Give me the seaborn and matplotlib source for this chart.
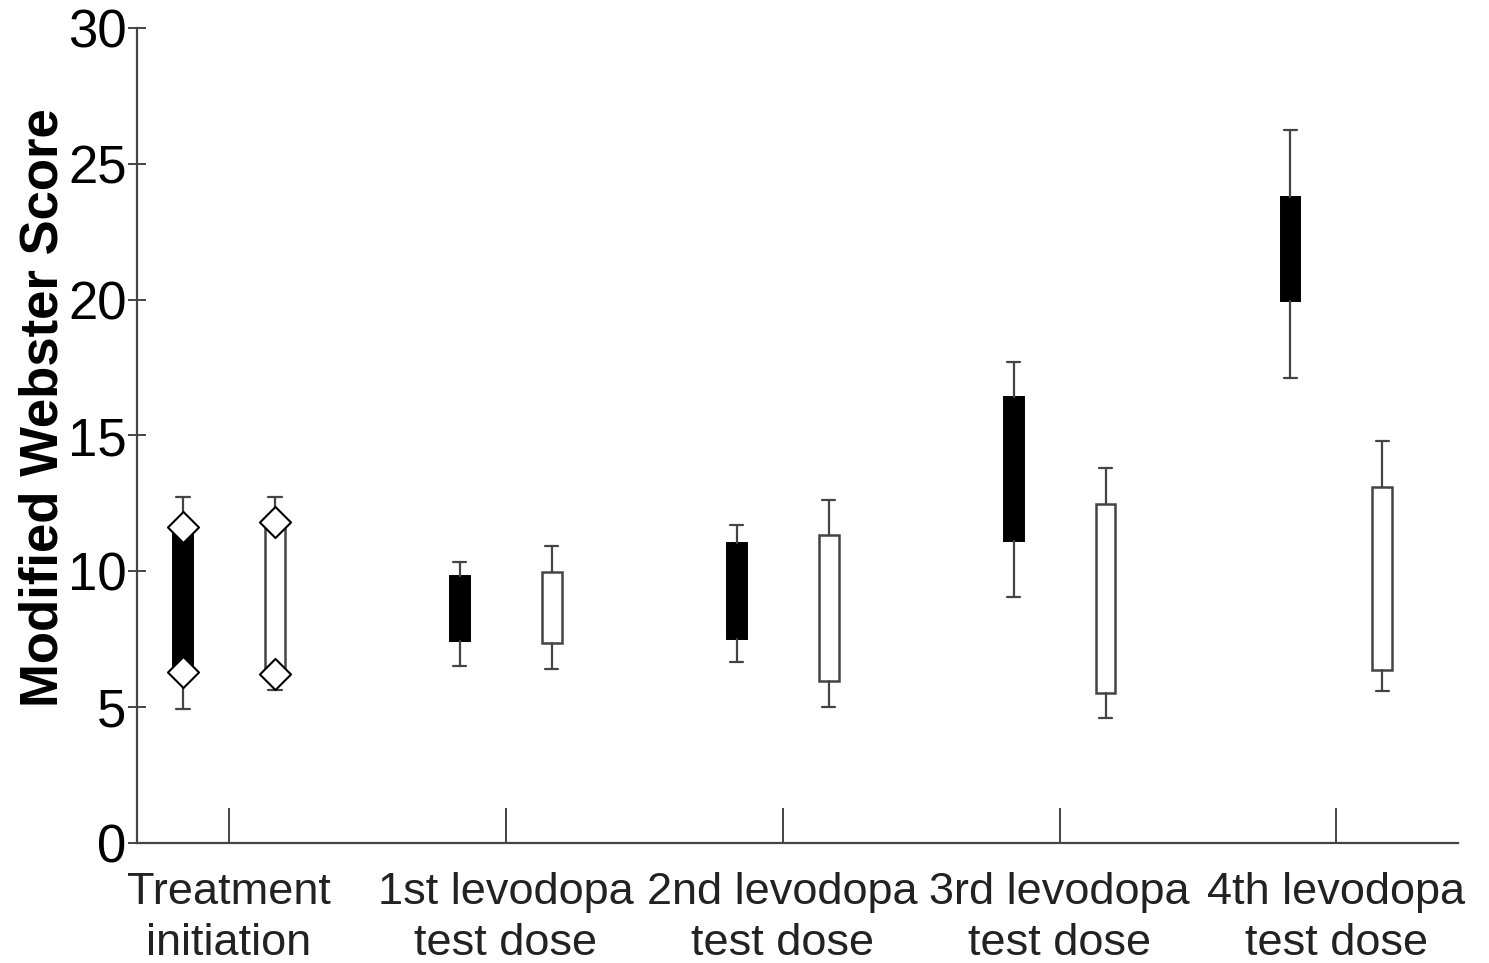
import numpy as np
import pandas as pd
import matplotlib
matplotlib.use("Agg")
import matplotlib.pyplot as plt
import seaborn as sns

# ---- data ----
categories = ["Treatment\ninitiation", "1st levodopa\ntest dose", "2nd levodopa\ntest dose",
              "3rd levodopa\ntest dose", "4th levodopa\ntest dose"]
y_ticks = [0, 5, 10, 15, 20, 25, 30]

black_whislo = [4.93, 6.51, 6.66, 9.05, 17.11]
black_q1 = [6.29, 7.43, 7.51, 11.13, 19.95]
black_q3 = [11.63, 9.83, 11.04, 16.41, 23.78]
black_whishi = [12.73, 10.34, 11.70, 17.70, 26.24]

white_whislo = [5.63, 6.40, 5.01, 4.60, 5.59]
white_q1 = [6.22, 7.36, 5.96, 5.52, 6.37]
white_q3 = [11.81, 9.97, 11.34, 12.48, 13.10]
white_whishi = [12.73, 10.93, 12.62, 13.80, 14.80]

# diamonds at treatment initiation (category index 0)
diamond_cat = [0, 0]
diamond_black = [6.29, 11.63]
diamond_white = [6.22, 11.81]

# ---- style ----
sns.set_theme(style="ticks")
plt.rcParams["font.family"] = ["Liberation Sans", "DejaVu Sans"]

fig = plt.figure(figsize=(14.89, 9.63), dpi=100)
ax = fig.add_axes([137 / 1489, 1 - 843 / 963, (1458 - 137) / 1489, (843 - 28) / 963])

offset = 0.166
bw = 0.072
line_col = "#444444"


def stats(lo, q1, q3, hi):
    return [dict(whislo=a, q1=b, med=b, q3=c, whishi=d, fliers=[])
            for a, b, c, d in zip(lo, q1, q3, hi)]


pos = np.arange(len(categories))
common = dict(widths=bw, showfliers=False, patch_artist=True, capwidths=0.048,
              whiskerprops=dict(color=line_col, linewidth=1.6),
              capprops=dict(color=line_col, linewidth=1.6),
              medianprops=dict(linewidth=0))
ax.bxp(stats(black_whislo, black_q1, black_q3, black_whishi), positions=pos - offset,
       boxprops=dict(facecolor="black", edgecolor="black", linewidth=1.4), **common)
ax.bxp(stats(white_whislo, white_q1, white_q3, white_whishi), positions=pos + offset,
       boxprops=dict(facecolor="white", edgecolor=line_col, linewidth=1.8), **common)

dia = pd.DataFrame({
    "x": np.concatenate([np.array(diamond_cat) - offset, np.array(diamond_cat) + offset]),
    "y": diamond_black + diamond_white,
})
sns.scatterplot(data=dia, x="x", y="y", marker="D", s=250, color="white",
                edgecolor="black", linewidth=1.5, zorder=5, ax=ax, legend=False)

ax.set_xlim(-0.332, 4.439)
ax.set_ylim(0, 30)
ax.set_yticks(y_ticks)
ax.set_yticklabels([str(t) for t in y_ticks], fontsize=38, color="black")
ax.set_xticks(pos)
ax.set_xticklabels(categories, fontsize=32.5, color="#222222", linespacing=1.3)
ax.set_xlabel("")
ax.set_ylabel("Modified Webster Score", fontsize=38, fontweight="bold", color="black")
ax.yaxis.set_label_coords(-0.052, 0.534)

ax.tick_params(axis="y", direction="inout", length=13, width=1.4, pad=1, colors=line_col,
               labelcolor="black")
ax.tick_params(axis="x", direction="in", length=25, width=1.4, pad=21, colors=line_col,
               labelcolor="#222222")
for s in ["top", "right"]:
    ax.spines[s].set_visible(False)
for s in ["left", "bottom"]:
    ax.spines[s].set_color(line_col)
    ax.spines[s].set_linewidth(1.6)

fig.savefig("out.png", dpi=100)
